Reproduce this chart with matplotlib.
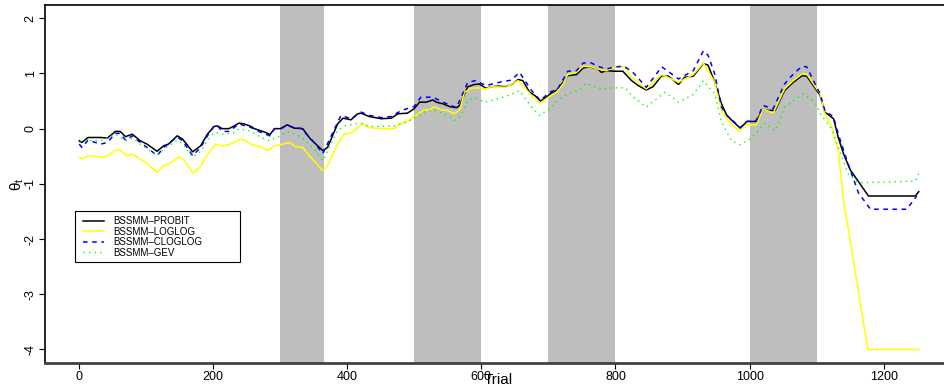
import matplotlib
matplotlib.use("Agg")
import matplotlib.pyplot as plt
from matplotlib.patches import Rectangle

plt.rcParams['font.family'] = ['Liberation Sans', 'DejaVu Sans']
plt.rcParams['mathtext.default'] = 'regular'

# trial positions / posterior means
probit_t = [1, 5, 14, 33, 43, 55, 62, 70, 80, 92, 102, 117, 127, 134, 147, 155, 170, 182, 192, 202,
            207, 214, 224, 232, 239, 247, 257, 262, 272, 282, 285, 292, 301, 311, 321, 334, 345, 364, 371, 386,
            394, 406, 416, 421, 433, 451, 466, 476, 490, 500, 508, 518, 528, 533, 543, 553, 563, 568, 573, 580,
            590, 597, 607, 615, 625, 637, 647, 655, 662, 672, 680, 688, 697, 704, 712, 722, 729, 742, 752, 762,
            774, 779, 787, 799, 811, 824, 834, 846, 856, 869, 879, 894, 903, 916, 931, 938, 948, 958, 966, 976,
            986, 996, 1010, 1020, 1027, 1038, 1052, 1065, 1078, 1085, 1095, 1105, 1112, 1125, 1132, 1140, 1150, 1177, 1247, 1252]
probit_y = [-0.22, -0.25, -0.16, -0.16, -0.17, -0.05, -0.05, -0.145, -0.1, -0.22, -0.28, -0.41, -0.31, -0.28, -0.13, -0.19, -0.42, -0.31, -0.1, 0.04,
            0.05, 0.0, 0.0, 0.05, 0.1, 0.085, 0.04, 0.0, -0.04, -0.085, -0.11, 0.0, 0.0, 0.07, 0.01, 0.0, -0.18, -0.4, -0.34, 0.085,
            0.19, 0.16, 0.27, 0.28, 0.22, 0.18, 0.19, 0.27, 0.28, 0.36, 0.48, 0.48, 0.52, 0.48, 0.45, 0.4, 0.38, 0.42, 0.57, 0.76,
            0.8, 0.81, 0.73, 0.76, 0.77, 0.76, 0.81, 0.89, 0.87, 0.66, 0.6, 0.5, 0.57, 0.64, 0.69, 0.84, 0.96, 0.98, 1.1, 1.12,
            1.08, 1.02, 1.05, 1.04, 1.04, 0.87, 0.78, 0.7, 0.76, 0.96, 0.95, 0.8, 0.93, 0.95, 1.18, 1.15, 0.84, 0.45, 0.24, 0.12,
            0.01, 0.13, 0.13, 0.36, 0.33, 0.33, 0.69, 0.84, 0.96, 0.95, 0.78, 0.6, 0.3, 0.18, -0.16, -0.46, -0.75, -1.22, -1.22, -1.14]

loglog_t = [1, 5, 14, 38, 43, 55, 62, 72, 80, 92, 102, 117, 127, 134, 150, 157, 171, 182, 192, 204,
            214, 224, 232, 241, 249, 259, 272, 282, 292, 301, 314, 324, 334, 346, 364, 371, 386, 396, 406, 413,
            423, 433, 451, 471, 478, 490, 503, 515, 523, 530, 540, 550, 560, 568, 575, 585, 595, 607, 615, 637,
            655, 675, 688, 700, 712, 722, 729, 742, 752, 764, 774, 786, 801, 813, 824, 846, 869, 894, 916, 931,
            948, 958, 966, 976, 984, 996, 1010, 1020, 1035, 1052, 1065, 1078, 1085, 1095, 1105, 1112, 1122, 1132, 1140, 1150,
            1176, 1252]
loglog_y = [-0.52, -0.55, -0.49, -0.52, -0.49, -0.39, -0.39, -0.49, -0.46, -0.55, -0.63, -0.79, -0.67, -0.64, -0.51, -0.57, -0.81, -0.68, -0.47, -0.28,
            -0.31, -0.29, -0.25, -0.19, -0.22, -0.29, -0.33, -0.4, -0.31, -0.29, -0.25, -0.33, -0.34, -0.52, -0.76, -0.67, -0.28, -0.1, -0.085, -0.01,
            0.085, 0.02, 0.0, 0.0, 0.085, 0.13, 0.24, 0.34, 0.34, 0.4, 0.34, 0.33, 0.27, 0.34, 0.66, 0.73, 0.74, 0.72, 0.76, 0.75,
            0.87, 0.6, 0.46, 0.57, 0.66, 0.81, 0.98, 1.02, 1.13, 1.12, 1.08, 1.05, 1.12, 1.12, 0.93, 0.72, 0.98, 0.84, 0.98, 1.19,
            0.84, 0.33, 0.18, 0.05, -0.05, 0.07, 0.07, 0.36, 0.28, 0.72, 0.87, 0.99, 0.99, 0.81, 0.63, 0.27, 0.05, -0.4, -1.31, -2.04,
            -4.0, -4.0]

cloglog_t = [1, 5, 14, 33, 43, 55, 62, 70, 80, 92, 102, 117, 127, 147, 155, 170, 182, 192, 202, 207,
             214, 224, 239, 257, 272, 285, 292, 301, 311, 332, 351, 364, 391, 406, 421, 433, 451, 466, 481, 500,
             510, 528, 543, 563, 580, 592, 607, 627, 645, 657, 675, 688, 702, 714, 729, 742, 752, 764, 774, 786,
             801, 813, 826, 846, 869, 894, 916, 931, 938, 948, 958, 966, 986, 996, 1010, 1020, 1035, 1052, 1065, 1078,
             1085, 1095, 1105, 1112, 1125, 1132, 1147, 1162, 1180, 1234, 1249]
cloglog_y = [-0.28, -0.34, -0.21, -0.28, -0.25, -0.085, -0.085, -0.21, -0.13, -0.25, -0.34, -0.49, -0.34, -0.15, -0.22, -0.49, -0.34, -0.13, 0.05, 0.05,
             -0.05, -0.05, 0.085, 0.02, -0.07, -0.13, 0.0, 0.0, 0.05, 0.0, -0.25, -0.45, 0.24, 0.18, 0.3, 0.24, 0.2, 0.22, 0.33, 0.4,
             0.57, 0.57, 0.48, 0.38, 0.84, 0.87, 0.78, 0.84, 0.88, 1.02, 0.69, 0.51, 0.66, 0.72, 1.04, 1.05, 1.19, 1.19, 1.13, 1.08,
             1.12, 1.13, 1.02, 0.75, 1.12, 0.9, 1.05, 1.41, 1.33, 0.99, 0.39, 0.24, 0.02, 0.13, 0.15, 0.42, 0.36, 0.81, 0.99, 1.13,
             1.12, 0.87, 0.63, 0.33, 0.21, -0.1, -0.65, -1.16, -1.46, -1.46, -1.22]

gev_t = [1, 14, 33, 55, 70, 80, 92, 117, 127, 147, 155, 170, 182, 192, 202, 214, 232, 239, 257, 272,
         284, 301, 311, 332, 351, 364, 386, 396, 421, 433, 451, 471, 490, 503, 515, 530, 550, 560, 570, 580,
         590, 605, 625, 645, 657, 675, 687, 702, 714, 729, 744, 756, 769, 779, 801, 815, 824, 846, 874, 894,
         916, 931, 948, 958, 973, 986, 1003, 1023, 1038, 1052, 1080, 1097, 1107, 1122, 1132, 1147, 1162, 1247, 1252]
gev_y = [-0.25, -0.21, -0.22, -0.1, -0.22, -0.17, -0.28, -0.49, -0.37, -0.21, -0.27, -0.52, -0.41, -0.22, -0.07, -0.1, -0.07, 0.0, -0.05, -0.16,
         -0.22, -0.13, -0.05, -0.15, -0.37, -0.58, -0.04, 0.05, 0.1, 0.04, 0.04, 0.05, 0.12, 0.22, 0.3, 0.34, 0.24, 0.15, 0.24, 0.51,
         0.56, 0.48, 0.54, 0.62, 0.69, 0.39, 0.24, 0.36, 0.51, 0.63, 0.69, 0.82, 0.76, 0.72, 0.74, 0.74, 0.6, 0.39, 0.66, 0.48,
         0.62, 0.87, 0.63, 0.12, -0.22, -0.29, -0.17, 0.1, -0.04, 0.39, 0.63, 0.48, 0.24, 0.0, -0.34, -0.82, -0.98, -0.95, -0.81]

# shaded trial blocks
blocks = [(300, 365), (500, 600), (700, 800), (1000, 1100)]

labels = ['BSSMM\u2013PROBIT', 'BSSMM\u2013LOGLOG', 'BSSMM\u2013CLOGLOG', 'BSSMM\u2013GEV']
xticks = [0, 200, 400, 600, 800, 1000, 1200]
yticks = [-4, -3, -2, -1, 0, 1, 2]

fig = plt.figure(figsize=(9.45, 3.88), dpi=100)
ax = fig.add_axes([45 / 945, 25.3 / 388, 906 / 945, 357.7 / 388])

for a, b in blocks:
    ax.axvspan(a, b, color='#BEBEBE', lw=0, zorder=0)

ax.plot(probit_t, probit_y, color='black', lw=1.1, label=labels[0])
ax.plot(loglog_t, loglog_y, color='#FFFF00', lw=1.1, label=labels[1])
ax.plot(cloglog_t, cloglog_y, color='#0000FF', lw=1.1, ls=(0, (3, 3)), label=labels[2])
ax.plot(gev_t, gev_y, color='#00FF00', lw=1.0, ls=(0, (1, 3)), label=labels[3])

ax.set_xlim(-50, 1300)
ax.set_ylim(-4.24, 2.24)
ax.set_xticks(xticks)
ax.set_yticks(yticks)
ax.set_yticklabels([str(v) for v in yticks], rotation=90, va='center')
ax.tick_params(labelsize=9, length=4, width=0.8, colors='black', pad=2)

ax.spines['right'].set_visible(False)
ax.spines['bottom'].set_color('#404040')
ax.spines['bottom'].set_linewidth(2)
ax.spines['left'].set_linewidth(1.2)
ax.spines['top'].set_linewidth(1.2)

# R puts the x title so low that it touches the "600" label
ax.set_xlabel('Trial', fontsize=11, va='center')
ax.xaxis.set_label_coords(0.5, -0.047)
ax.set_ylabel(r'$\theta_t$', fontsize=11, va='center')
ax.yaxis.set_label_coords(-0.031, 0.5)

# R-style legend box: wider than its contents
ax.add_patch(Rectangle((30 / 906, 101 / 357.7), 165 / 906, 50.5 / 357.7, transform=ax.transAxes,
                       facecolor='white', edgecolor='black', lw=0.8, zorder=4))
leg = ax.legend(loc='upper left', bbox_to_anchor=(38 / 906, 146.5 / 357.7), borderaxespad=0,
                fontsize=7, frameon=False, handlelength=2.2, handletextpad=0.9,
                labelspacing=0.05, borderpad=0)
leg.set_zorder(5)

fig.savefig('out.png', dpi=100)
